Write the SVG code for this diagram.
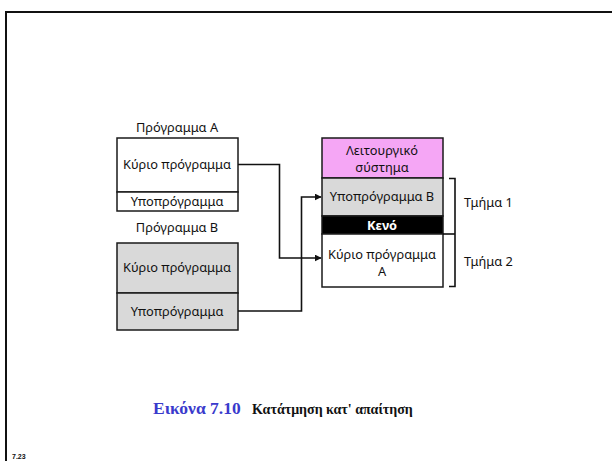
<svg xmlns="http://www.w3.org/2000/svg" width="612" height="461" viewBox="0 0 612 461">
<defs>
<style>
.box{stroke:#1a1a1a;stroke-width:1.5}
.t{font-family:"Noto Sans","Open Sans",sans-serif;font-size:12.8px;fill:#111;text-anchor:middle}
.ln{fill:none;stroke:#111;stroke-width:1.6}
</style>
<marker id="ah" viewBox="0 0 10 10" refX="9" refY="5" markerWidth="7" markerHeight="7" markerUnits="userSpaceOnUse" orient="auto"><path d="M0,0 L10,5 L0,10 z" fill="#111"/></marker>
</defs>
<rect width="612" height="461" fill="#fff"/>
<g id="frame" fill="none" stroke="#111" stroke-width="2"><path d="M6,461 V12 H612"/></g>

<g id="progA">
<text class="t" x="177" y="132">Πρόγραμμα A</text>
<rect class="box" x="117" y="138" width="121" height="54" fill="#fff"/>
<text class="t" x="177" y="169">Κύριο πρόγραμμα</text>
<rect class="box" x="117" y="192" width="121" height="19" fill="#fff"/>
<text class="t" x="177" y="206">Υποπρόγραμμα</text>
</g>

<g id="progB">
<text class="t" x="177" y="232">Πρόγραμμα B</text>
<rect class="box" x="117" y="243" width="121" height="50" fill="#d9d9d9"/>
<text class="t" x="177" y="272">Κύριο πρόγραμμα</text>
<rect class="box" x="117" y="293" width="121" height="37" fill="#d9d9d9"/>
<text class="t" x="177" y="316">Υποπρόγραμμα</text>
</g>

<g id="memory">
<rect class="box" x="322" y="138" width="121" height="40" fill="#f5a6f5"/>
<text class="t" x="382" y="155">Λειτουργικό</text>
<text class="t" x="382" y="172">σύστημα</text>
<rect class="box" x="322" y="178" width="121" height="38" fill="#d9d9d9"/>
<text class="t" x="382" y="201">Υποπρόγραμμα B</text>
<rect class="box" x="322" y="216" width="121" height="18" fill="#000"/>
<text class="t" x="382" y="230" style="fill:#fff;font-weight:bold">Κενό</text>
<rect class="box" x="322" y="234" width="121" height="53" fill="#fff"/>
<text class="t" x="382" y="259">Κύριο πρόγραμμα</text>
<text class="t" x="382" y="276">A</text>
</g>

<g id="brackets" fill="none" stroke="#111" stroke-width="1.6">
<path d="M449,178.5 H455 V286.5 H449"/>
<path d="M443,234 H455"/>
</g>
<g id="labels">
<text class="t" x="464" y="207" style="text-anchor:start">Τμήμα 1</text>
<text class="t" x="464" y="266" style="text-anchor:start">Τμήμα 2</text>
</g>

<g id="connectors">
<path class="ln" d="M238,164.5 H279.5 V258 H321" marker-end="url(#ah)"/>
<path class="ln" d="M238,311 H301.5 V197 H321" marker-end="url(#ah)"/>
</g>

<g id="caption">
<text x="153" y="414" font-family="'Liberation Serif',serif" font-weight="bold" font-size="17.5" fill="#3a3acc">Εικόνα 7.10</text>
<text x="252" y="414" font-family="'Liberation Serif',serif" font-weight="bold" font-size="14" fill="#111">Κατάτμηση κατ' απαίτηση</text>
</g>
<text x="12" y="459" font-family="'Liberation Sans',sans-serif" font-weight="bold" font-size="7" fill="#111">7.23</text>
</svg>
